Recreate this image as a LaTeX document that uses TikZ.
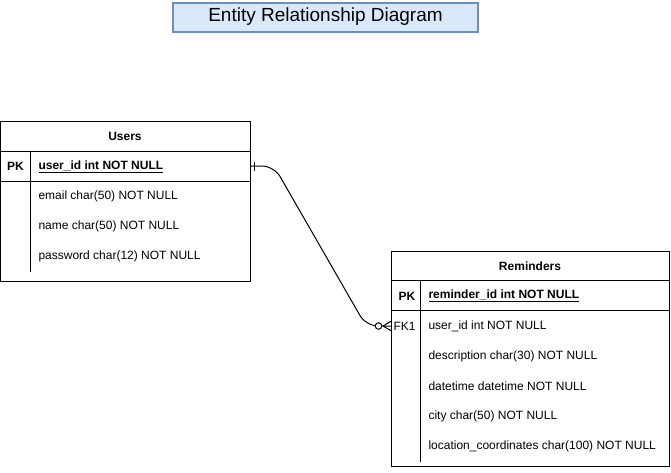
\documentclass[tikz,border=0pt]{standalone}
\usepackage{fontspec}
\setmainfont{Liberation Sans}
\definecolor{titlefill}{HTML}{DAE8FC}
\definecolor{titledraw}{HTML}{6C8EBF}
\begin{document}
\begin{tikzpicture}[x=1pt,y=-1pt,line width=1pt,
  tbl/.style={draw,anchor=north west,inner sep=0,outer sep=0},
  fld/.style={anchor=west,inner sep=0,font=\fontsize{12}{14}\selectfont},
  key/.style={anchor=center,inner sep=0,font=\fontsize{12}{14}\selectfont},
  hdr/.style={anchor=center,inner sep=0,font=\fontsize{12}{14}\selectfont\bfseries}]
\useasboundingbox (0,0) rectangle (671,472);
% title
\node[draw=titledraw,fill=titlefill,line width=2pt,minimum width=305pt,minimum height=29pt,inner sep=0,
  font=\fontsize{19}{22}\selectfont] (title) at (325.5,17) {Entity Relationship Diagram};
% Users table
\node[tbl,minimum width=249.5pt,minimum height=160pt] (users) at (0.5,121.5) {};
\draw (0.5,151.5) -- (250,151.5);
\draw (0.5,181.5) -- (250,181.5);
\draw (30.5,151.5) -- (30.5,271.5);
\node[hdr] (usersh) at (125,136.5) {Users};
\node[key,font=\fontsize{12}{14}\selectfont\bfseries] (upk) at (15.5,166.5) {PK};
\node[fld,font=\fontsize{12}{14}\selectfont\bfseries] (uid) at (38,166.5) {\underline{user\_id int NOT NULL}};
\node[fld] (uemail) at (38,196.5) {email char(50) NOT NULL};
\node[fld] (uname) at (38,226.5) {name char(50) NOT NULL};
\node[fld] (upass) at (38,256.5) {password char(12) NOT NULL};
% Reminders table
\node[tbl,minimum width=277.5pt,minimum height=215pt] (rem) at (391.5,251.5) {};
\draw (391.5,280.5) -- (669,280.5);
\draw (391.5,310.5) -- (669,310.5);
\draw (420.5,280.5) -- (420.5,461.5);
\node[hdr] (remh) at (530,266.5) {Reminders};
\node[key,font=\fontsize{12}{14}\selectfont\bfseries] (rpk) at (407,296) {PK};
\node[fld,font=\fontsize{12}{14}\selectfont\bfseries] (rid) at (428,296) {\underline{reminder\_id int NOT NULL}};
\node[key] (rfk) at (404.5,326) {FK1};
\node[fld] (ruid) at (428,326) {user\_id int NOT NULL};
\node[fld] (rdesc) at (428,356) {description char(30) NOT NULL};
\node[fld] (rdt) at (428,386) {datetime datetime NOT NULL};
\node[fld] (rcity) at (428,416) {city char(50) NOT NULL};
\node[fld] (rloc) at (428,446) {location\_coordinates char(100) NOT NULL};
% connector
\coordinate (ua) at (250,166);
\coordinate (rb) at (391.5,326);
\draw[rounded corners=12pt] (ua) -- (274,166) -- (366,326) -- (rb);
\draw (254,161.5) -- (254,170.5);
\draw (391.5,321) -- (383,326) -- (391.5,331);
\node[circle,draw,fill=white,inner sep=0,minimum size=6.5pt] (circ) at (378.5,326) {};
\end{tikzpicture}
\end{document}
